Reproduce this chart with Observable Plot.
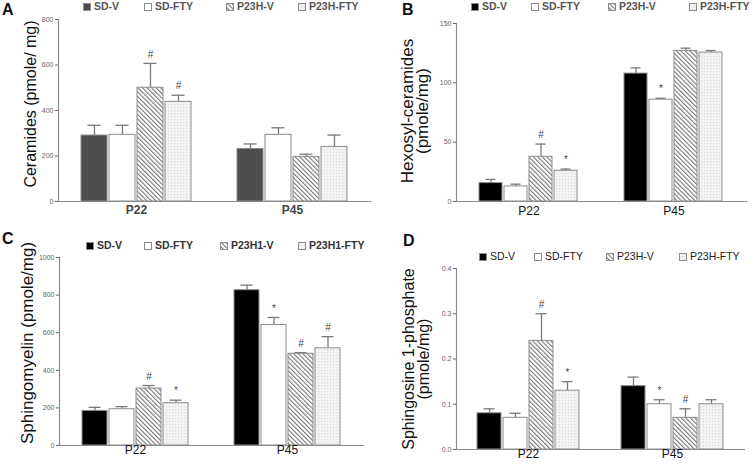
<!DOCTYPE html>
<html><head><meta charset="utf-8">
<script src="https://cdn.jsdelivr.net/npm/d3@7"></script>
<script src="https://cdn.jsdelivr.net/npm/@observablehq/plot@0.6"></script>
<style>
body{margin:0;background:#fff;font-family:"Liberation Sans",Arial,sans-serif;}
#fig{position:relative;width:752px;height:469px;overflow:hidden;background:#fff;}
.letter{position:absolute;font-weight:bold;font-size:16px;line-height:16px;color:#111;}
.lg{position:absolute;display:flex;align-items:center;font-size:10.5px;line-height:11px;white-space:nowrap;}
.lg svg{margin-right:3px;}
.ytitle{position:absolute;transform:translate(-50%,-50%) rotate(-90deg);white-space:pre;text-align:center;color:#111;}
</style></head>
<body>
<svg width="0" height="0" style="position:absolute">
<defs>
<pattern id="hatch" patternUnits="userSpaceOnUse" width="3.2" height="3.2" patternTransform="rotate(-45)">
<rect width="3.2" height="3.2" fill="#fff"/><line x1="0.6" y1="-1" x2="0.6" y2="4.2" stroke="#5a5a5a" stroke-width="0.9"/></pattern>
<pattern id="dots" patternUnits="userSpaceOnUse" width="3" height="3"><rect width="3" height="3" fill="#f4f4f4"/><rect width="1.2" height="1.2" fill="#dadada"/></pattern>
</defs></svg>
<div id="fig"></div>
<script>
// ---- data ----
const groups = ["P22", "P45"];
const seriesH = ["SD-V", "SD-FTY", "P23H-V", "P23H-FTY"];
const seriesH1 = ["SD-V", "SD-FTY", "P23H1-V", "P23H1-FTY"];

// order: P22 (4 series), then P45 (4 series)
const ceramideMean = [290, 293, 500, 438, 231, 293, 196, 240];
const ceramideTop  = [335, 335, 607, 467, 253, 324, 208, 292];
const ceramideSig  = ["", "", "#", "#", "", "", "", ""];

const hexosylMean = [15.5, 12.7, 37.7, 25.9, 107.8, 85.8, 126.9, 125.5];
const hexosylTop  = [18.6, 14.6, 48.4, 27.3, 112.6, 87.0, 129.2, 127.2];
const hexosylSig  = ["", "", "#", "*", "", "*", "", ""];

const sphingoMean = [184, 193, 303, 225, 826, 641, 488, 517];
const sphingoTop  = [203, 207, 319, 241, 853, 681, 494, 579];
const sphingoSig  = ["", "", "#", "*", "", "*", "#", "#"];

const s1pMean = [0.08, 0.07, 0.24, 0.13, 0.14, 0.10, 0.07, 0.10];
const s1pTop  = [0.09, 0.08, 0.30, 0.15, 0.16, 0.11, 0.09, 0.11];
const s1pSig  = ["", "", "#", "*", "", "*", "#", ""];

const ticksA = [0, 200, 400, 600, 800];
const ticksB = [0, 50, 100, 150];
const ticksC = [0, 200, 400, 600, 800, 1000];
const ticksD = [0, 0.1, 0.2, 0.3, 0.4];

const titleA = "Ceramides (pmole/ mg)";
const titleB = "Hexosyl-ceramides\n(pmole/mg)";
const titleC = "Sphingomyelin (pmole/mg)";
const titleD = "Sphingosine 1-phosphate\n(pmole/mg)";

// ---- helpers ----
function rows(series, mean, top, sig) {
  return mean.map((v, i) => ({group: groups[Math.floor(i / 4)], series: series[i % 4], value: v, top: top[i], sig: sig[i]}));
}

const fig = document.getElementById("fig");

function addDiv(cls, style, text) {
  const d = document.createElement("div");
  d.className = cls;
  Object.assign(d.style, style);
  if (text != null) d.textContent = text;
  fig.appendChild(d);
  return d;
}

function panel(cfg) {
  const data = rows(cfg.series, cfg.mean, cfg.top, cfg.sig);
  const fills = [cfg.dark, "#ffffff", "url(#hatch)", "url(#dots)"];
  const axisGray = "#8a8a8a";
  const chart = Plot.plot({
    width: cfg.width, height: cfg.height,
    marginLeft: cfg.ml, marginRight: cfg.mr, marginTop: cfg.mt, marginBottom: cfg.mb,
    style: {background: "transparent", fontFamily: "Liberation Sans, Arial, sans-serif"},
    fx: {domain: groups, padding: 0, axis: null, label: null},
    x: {domain: cfg.series, paddingInner: 0.07, paddingOuter: cfg.po, axis: null, label: null},
    y: {domain: [0, cfg.ymax], axis: null, label: null},
    color: {domain: cfg.series, range: fills},
    marks: [
      Plot.ruleX(data, {fx: "group", x: "series", y1: "value", y2: "top", stroke: "#7a7a7a", strokeWidth: 1.3}),
      Plot.tickY(data, {fx: "group", x: "series", y: "top", insetLeft: 6.5, insetRight: 6.5, stroke: "#7a7a7a", strokeWidth: 1.3}),
      Plot.barY(data, {fx: "group", x: "series", y: "value", fill: "series", stroke: "#8c8c8c", strokeWidth: 1}),
      Plot.text(data.filter(d => d.sig), {fx: "group", x: "series", y: "top", text: "sig", dy: -9, fontSize: 10, fill: "#444"}),
      Plot.frame({anchor: "bottom", stroke: axisGray, strokeWidth: 1.2}),
      Plot.frame({anchor: "left", facetAnchor: "left", stroke: axisGray, strokeWidth: 1.2}),
      Plot.axisY({ticks: cfg.ticks, tickFormat: cfg.fmt, tickSize: 3, tickPadding: 2, fontSize: 7, color: "#666", label: null}),
      Plot.axisFx({anchor: "bottom", tickSize: 0, tickPadding: cfg.fxPad, fontSize: 12, fontWeight: cfg.fxWeight, color: cfg.fxColor, label: null})
    ]
  });
  chart.style.position = "absolute";
  chart.style.left = cfg.left + "px";
  chart.style.top = cfg.svgTop + "px";
  fig.appendChild(chart);

  addDiv("letter", {left: cfg.letter[0] + "px", top: cfg.letter[1] + "px"}, cfg.letterText);
  addDiv("ytitle", {left: cfg.title[0] + "px", top: cfg.title[1] + "px", fontSize: cfg.titleSize + "px", lineHeight: cfg.titleLH + "px"}, cfg.titleText);
  cfg.series.forEach((s, i) => {
    const item = addDiv("lg", {left: cfg.legendX[i] + "px", top: (cfg.legendY - 5) + "px", fontWeight: cfg.legendWeight, color: cfg.legendColor});
    const ns = "http://www.w3.org/2000/svg";
    const sw = document.createElementNS(ns, "svg");
    sw.setAttribute("width", 8); sw.setAttribute("height", 8);
    const r = document.createElementNS(ns, "rect");
    r.setAttribute("x", 0.5); r.setAttribute("y", 0.5); r.setAttribute("width", 7); r.setAttribute("height", 7);
    r.setAttribute("fill", fills[i]); r.setAttribute("stroke", "#8c8c8c"); r.setAttribute("stroke-width", 1);
    sw.appendChild(r);
    item.appendChild(sw);
    const t = document.createElement("span");
    t.textContent = s;
    item.appendChild(t);
  });
}

panel({
  series: seriesH, mean: ceramideMean, top: ceramideTop, sig: ceramideSig,
  left: 0, svgTop: 14, width: 376, height: 216, ml: 58, mr: 6, mt: 5, mb: 29,
  ymax: 800, ticks: ticksA, fmt: d3.format("d"), po: 0.82, dark: "#4d4d4d",
  fxPad: 4, fxWeight: "bold", fxColor: "#444",
  letter: [2, 2], letterText: "A",
  title: [31, 104], titleText: titleA, titleSize: 16, titleLH: 16,
  legendX: [83, 144, 226, 298], legendY: 6, legendWeight: "bold", legendColor: "#555"
});

panel({
  series: seriesH, mean: hexosylMean, top: hexosylTop, sig: hexosylSig,
  left: 376, svgTop: 14, width: 376, height: 216, ml: 80, mr: 6, mt: 9, mb: 29,
  ymax: 150, ticks: ticksB, fmt: d3.format("d"), po: 0.85, dark: "#000000",
  fxPad: 5, fxWeight: "normal", fxColor: "#111",
  letter: [402, 2], letterText: "B",
  title: [415, 111], titleText: titleB, titleSize: 17, titleLH: 15,
  legendX: [471, 531, 608, 689], legendY: 6, legendWeight: "bold", legendColor: "#555"
});

panel({
  series: seriesH1, mean: sphingoMean, top: sphingoTop, sig: sphingoSig,
  left: 0, svgTop: 250, width: 376, height: 219, ml: 58, mr: 13, mt: 7, mb: 24,
  ymax: 1000, ticks: ticksC, fmt: d3.format("d"), po: 0.833, dark: "#000000",
  fxPad: 0, fxWeight: "normal", fxColor: "#111",
  letter: [2, 231], letterText: "C",
  title: [27, 343], titleText: titleC, titleSize: 17, titleLH: 17,
  legendX: [86, 144, 220, 298], legendY: 245, legendWeight: "bold", legendColor: "#333"
});

panel({
  series: seriesH, mean: s1pMean, top: s1pTop, sig: s1pSig,
  left: 376, svgTop: 262, width: 376, height: 207, ml: 80, mr: 8, mt: 6, mb: 20,
  ymax: 0.4, ticks: ticksD, fmt: d3.format(".1f"), po: 0.80, dark: "#000000",
  fxPad: 0, fxWeight: "normal", fxColor: "#111",
  letter: [403, 233], letterText: "D",
  title: [416, 359], titleText: titleD, titleSize: 16, titleLH: 15,
  legendX: [479, 534, 606, 679], legendY: 256, legendWeight: "normal", legendColor: "#222"
});
</script>
</body></html>
